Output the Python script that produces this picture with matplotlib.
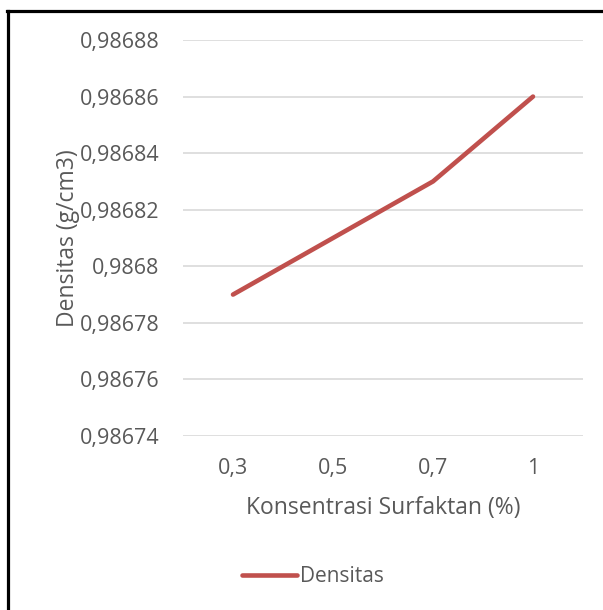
import matplotlib.pyplot as plt
from matplotlib.lines import Line2D

# data
konsentrasi = ['0,3', '0,5', '0,7', '1']
densitas = [0.98679, 0.98681, 0.98683, 0.98686]
y_ticks = [0.98674, 0.98676, 0.98678, 0.98680, 0.98682, 0.98684, 0.98686, 0.98688]

plt.rcParams['font.family'] = ['Open Sans', 'DejaVu Sans']
grey = '#595959'

fig = plt.figure(figsize=(6.03, 6.10), dpi=100)
ax = fig.add_axes([183/603, 1 - 436/610, 400/603, 396/610])

x = list(range(len(konsentrasi)))
ax.plot(x, densitas, color='#C0504D', linewidth=3.3, solid_capstyle='round',
        solid_joinstyle='round', zorder=3)

ax.set_xlim(-0.5, len(konsentrasi) - 0.5)
ax.set_ylim(y_ticks[0], y_ticks[-1])
ax.set_xticks(x)
ax.set_xticklabels(konsentrasi)
ax.set_yticks(y_ticks)
ax.set_yticklabels([('%.5f' % v).rstrip('0').replace('.', ',') for v in y_ticks])
ax.tick_params(length=0, colors=grey, labelsize=15.5)
ax.tick_params(axis='x', pad=16)
ax.tick_params(axis='y', pad=17)
ax.grid(axis='y', color='#D9D9D9', linewidth=1.2)
ax.set_axisbelow(True)
for s in ax.spines.values():
    s.set_visible(False)

ax.set_xlabel('Konsentrasi Surfaktan (%)', fontsize=16.5, color=grey, labelpad=12)
ax.set_ylabel('Densitas (g/cm3)', fontsize=16.5, color=grey, labelpad=0)

leg_line = Line2D([0], [0], color='#C0504D', linewidth=3.3, solid_capstyle='round')
fig.legend([leg_line], ['Densitas'], loc='center', bbox_to_anchor=(313/603, 1 - 577/610),
           frameon=False, fontsize=15, handlelength=2.6, handletextpad=0.15,
           labelcolor=grey)

# outer frame (only left and top visible in the crop)
fig.add_artist(Line2D([8/603, 8/603], [0, 1 - 11/610], color='black', linewidth=2.3,
                      transform=fig.transFigure))
fig.add_artist(Line2D([7/603, 1], [1 - 11/610, 1 - 11/610], color='black', linewidth=2.3,
                      transform=fig.transFigure))

fig.savefig('out.png', dpi=100, facecolor='white')
